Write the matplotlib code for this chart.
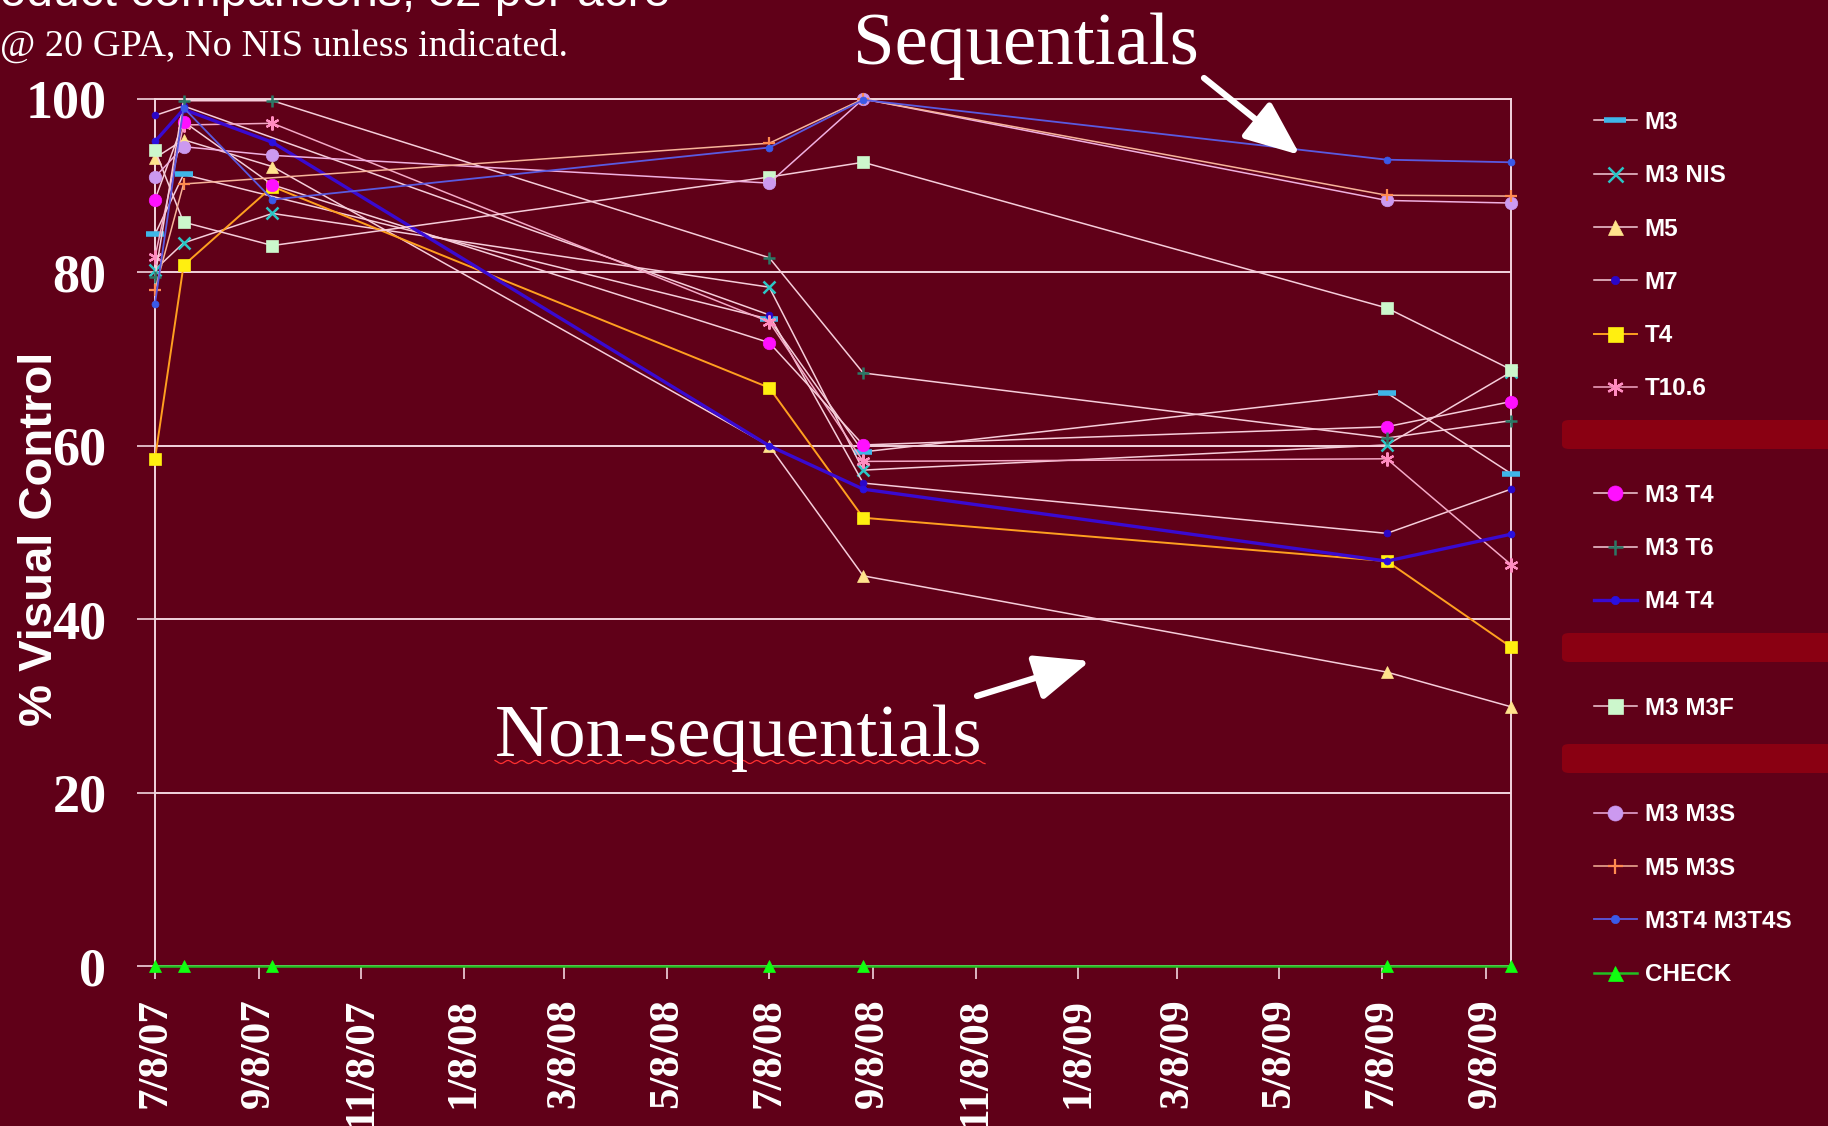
import datetime as dt

import numpy as np
import matplotlib
matplotlib.use("Agg")
import matplotlib.pyplot as plt
import matplotlib.dates as mdates
from matplotlib.lines import Line2D
from matplotlib.patches import FancyBboxPatch

BG = "#600018"
BAR_RED = "#8a0012"
GRID = "#f2d4de"
PINK = "#f6cdda"
SERIF = "Liberation Serif"
SANS = "Liberation Sans"

W, H = 1828, 1126

# sampling dates
dates = [dt.date(2007, 7, 8), dt.date(2007, 7, 25), dt.date(2007, 9, 16),
         dt.date(2008, 7, 8), dt.date(2008, 9, 2), dt.date(2009, 7, 11),
         dt.date(2009, 9, 23)]

nan = np.nan
m3 = [84.4, 91.3, nan, 74.6, 59.3, 66.1, 56.8]
m3_nis = [80.3, 83.4, 86.8, 78.3, 57.2, 60.1, 68.5]
m5 = [93.2, 95.3, 92.2, 60.0, 45.0, 33.9, 29.9]
m7 = [98.1, 99.2, nan, 75.1, 55.7, 49.9, 55.0]
t4 = [58.5, 80.8, 89.9, 66.7, 51.7, 46.7, 36.8]
t10_6 = [81.8, 97.0, 97.2, 74.3, 58.2, 58.5, 46.3]
m3_t4 = [88.4, 97.4, 90.1, 71.9, 60.1, 62.2, 65.1]
m3_t6 = [79.5, 99.8, 99.8, 81.7, 68.4, 60.9, 62.9]
m4_t4 = [95.1, 98.8, 95.0, 60.0, 55.0, 46.7, 49.8]
m3_m3f = [94.1, 85.8, 83.1, 91.0, 92.7, 75.9, 68.8]
m3_m3s = [91.0, 94.5, 93.5, 90.3, 100.0, 88.3, 88.0]
m5_m3s = [78.0, 90.2, nan, 94.9, 100.0, 88.9, 88.8]
m3t4_m3t4s = [76.4, 99.0, 88.4, 94.4, 99.9, 93.0, 92.7]
check = [0, 0, 0, 0, 0, 0, 0]

# name, values, line colour, line width, marker, marker colour, marker size, edge width
series = [
    ("M3", m3, PINK, 1.1, "_", "#3fb6e8", 13, 4.0),
    ("M3 NIS", m3_nis, PINK, 1.1, "x", "#2cc6c6", 9, 1.8),
    ("M5", m5, PINK, 1.1, "^", "#ffe38c", 9, 0.5),
    ("M7", m7, PINK, 1.1, "o", "#2a06c8", 5, 0.5),
    ("T4", t4, "#ffa020", 1.4, "s", "#ffef10", 9, 0.5),
    ("T10.6", t10_6, "#f4a9c6", 1.1, (6, 2, 0), "#ff8cc0", 10, 1.6),
    ("M3 T4", m3_t4, PINK, 1.1, "o", "#ff10ff", 9, 0.5),
    ("M3 T6", m3_t6, PINK, 1.1, "+", "#2b7866", 9, 1.8),
    ("M4 T4", m4_t4, "#3a0ad0", 2.4, "o", "#2a10e0", 5, 0.5),
    ("M3 M3F", m3_m3f, PINK, 1.1, "s", "#ccf7cc", 9, 0.5),
    ("M3 M3S", m3_m3s, "#f0b0e0", 1.1, "o", "#cc99f0", 9, 0.5),
    ("M5 M3S", m5_m3s, "#f7b49a", 1.1, "+", "#ff8a50", 9, 1.6),
    ("M3T4 M3T4S", m3t4_m3t4s, "#5a5ae0", 1.3, "o", "#3a5ae8", 5, 0.5),
    ("CHECK", check, "#22c022", 1.8, "^", "#10ff10", 9, 0.5),
]
# legend rows hidden behind the red bars
blank_after = {"T10.6", "M4 T4", "M3 M3F"}

fig = plt.figure(figsize=(W / 100, H / 100), dpi=100, facecolor=BG)
ax = fig.add_axes([155 / W, 1 - 966 / H, (1511 - 155) / W, (966 - 99) / H])
ax.set_facecolor(BG)

xdates = np.array([mdates.date2num(d) for d in dates])
handles = []
for name, vals, lc, lw, mk, mc, ms, mew in series:
    v = np.array(vals, dtype=float)
    ok = ~np.isnan(v)
    ln, = ax.plot(xdates[ok], v[ok], color=lc, lw=lw, marker=mk, ms=ms,
                  mfc=mc, mec=mc, mew=mew, clip_on=False, label=name,
                  zorder=3)
    handles.append(ln)
    if name in blank_after:
        handles.append(Line2D([], [], linestyle="none", marker="none", label=" "))

ax.set_xlim(xdates[0], xdates[-1])
ax.set_ylim(0, 100)
ax.set_yticks(np.arange(0, 101, 20))
ax.yaxis.grid(True, color=GRID, lw=1.4, zorder=1)
ax.set_axisbelow(True)

ax.xaxis.set_major_locator(mdates.MonthLocator(bymonth=[1, 3, 5, 7, 9, 11], bymonthday=8))
ax.xaxis.set_major_formatter(plt.FuncFormatter(
    lambda x, pos: (lambda d: f"{d.month}/{d.day}/{d:%y}")(mdates.num2date(x))))

for s in ("left", "right", "top", "bottom"):
    ax.spines[s].set_color(GRID)
    ax.spines[s].set_linewidth(1.4)

ax.tick_params(axis="y", direction="out", length=13, width=1.2, color=GRID,
               labelcolor="white", pad=22, labelsize=39)
ax.tick_params(axis="x", direction="out", length=9, width=1.2, color=GRID,
               labelcolor="white", pad=14, labelsize=31, rotation=90)
for lab in ax.get_yticklabels():
    lab.set_fontfamily(SERIF)
    lab.set_fontweight("bold")
for lab in ax.get_xticklabels():
    lab.set_fontfamily(SERIF)
    lab.set_fontweight("bold")
    lab.set_va("top")

leg = ax.legend(handles=handles, loc="upper left",
                bbox_to_anchor=(1594 / W, 1 - 111 / H),
                bbox_transform=fig.transFigure, frameon=False,
                prop={"family": SANS, "weight": "bold", "size": 17.5},
                labelspacing=1.245, handlelength=1.75, handletextpad=0.33,
                borderpad=0, borderaxespad=0, markerscale=1.2)
for t in leg.get_texts():
    t.set_color("white")

# red bars across the legend
for top in (420, 633, 744):
    fig.add_artist(FancyBboxPatch((1562 / W, 1 - (top + 29) / H), 300 / W, 29 / H,
                                  boxstyle="round,pad=0,rounding_size=0.004",
                                  transform=fig.transFigure, fc=BAR_RED, ec="none"))

# titles and annotations
fig.text(-48 / W, 1 - 6 / H, "Product comparisons, 32 per acre", family=SANS,
         size=34.5, color="white", va="baseline", ha="left")
fig.text(0, 1 - 56 / H, "@ 20 GPA, No NIS unless indicated.", family=SERIF,
         size=27.5, color="white", va="baseline", ha="left")
fig.text(1026 / W, 1 - 64 / H, "Sequentials", family=SERIF, size=54,
         color="white", va="baseline", ha="center")
fig.text(739 / W, 1 - 756 / H, "Non-sequentials", family=SERIF, size=54,
         color="white", va="baseline", ha="center")
fig.text(40 / W, 1 - 539 / H, "% Visual Control", family=SANS, weight="bold",
         size=34, color="white", rotation=90, va="center", ha="center")

# spell-check squiggle under the lower caption
sx = np.linspace(495, 985, 250)
sy = 762 + 1.6 * np.sin(sx / 2.2)
fig.add_artist(Line2D(sx / W, 1 - sy / H, transform=fig.transFigure,
                      color="#ff3030", lw=0.9))

arrow = dict(arrowstyle="-|>,head_length=1.2,head_width=0.5", color="white",
             lw=4.5, mutation_scale=28, shrinkA=0, shrinkB=0)
ax.annotate("", xy=(1300, H - 155), xytext=(1204, H - 78),
            xycoords="figure pixels", textcoords="figure pixels", arrowprops=arrow)
ax.annotate("", xy=(1090, H - 661), xytext=(977, H - 696),
            xycoords="figure pixels", textcoords="figure pixels", arrowprops=arrow)

fig.savefig("out.png", dpi=100, facecolor=BG)
